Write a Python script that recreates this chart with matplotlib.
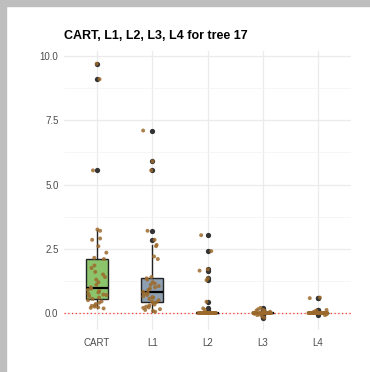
import numpy as np
import matplotlib
matplotlib.use("Agg")
from matplotlib import pyplot as plt
from matplotlib.patches import Rectangle
from matplotlib.ticker import MultipleLocator

plt.rcParams['font.family'] = ['Liberation Sans', 'DejaVu Sans']

methods = ['CART', 'L1', 'L2', 'L3', 'L4']
box_colors = ['#8cc46c', '#8d9fb0', '#e0a07a', '#c9a0dc', '#f2d27a']

cart = [0.18, 0.2, 0.22, 0.25, 0.28, 0.3, 0.35, 0.4, 0.45, 0.5,
        0.55, 0.6, 0.65, 0.7, 0.72, 0.75, 0.8, 0.85, 0.9, 0.95,
        1.0, 1.1, 1.2, 1.3, 1.4, 1.5, 1.6, 1.75, 1.85, 2.1,
        2.15, 2.35, 2.6, 2.85, 2.9, 3.2, 3.25, 5.55, 9.1, 9.7]
l1 = [0.05, 0.08, 0.12, 0.15, 0.2, 0.22, 0.25, 0.3, 0.33, 0.38,
      0.42, 0.45, 0.5, 0.55, 0.6, 0.62, 0.65, 0.7, 0.75, 0.78,
      0.82, 0.9, 0.95, 1.0, 1.05, 1.1, 1.15, 1.2, 1.3, 1.35,
      1.4, 2.1, 2.2, 2.6, 2.65, 2.85, 3.2, 5.55, 5.9, 7.1]
l2 = [0.0] * 31 + [3.03, 2.41, 1.7, 1.65, 1.35, 1.28, 0.44, 0.18, 0.12]
l3 = [0.0] * 28 + [-0.18, -0.12, -0.08, -0.05, -0.03, 0.03, 0.05, 0.08,
                   0.1, 0.12, 0.15, 0.2]
l4 = [0.0] * 32 + [-0.08, -0.05, 0.04, 0.06, 0.1, 0.12, 0.58, 0.6]
data = [cart, l1, l2, l3, l4]

fig = plt.figure(figsize=(3.7, 3.72), dpi=100)
ax = fig.add_axes([64 / 370, 1 - 330 / 372, 287 / 370, 279 / 372])

# grey frame on top and left edges
fig.patches.append(Rectangle((0, 1 - 6 / 372), 1, 6 / 372, transform=fig.transFigure,
                             color='#bebebe', zorder=0))
fig.patches.append(Rectangle((0, 0), 6 / 370, 1, transform=fig.transFigure,
                             color='#bebebe', zorder=0))

pos = np.arange(1, 6)
bp = ax.boxplot(data, positions=pos, widths=0.4, patch_artist=True,
                whis=1.5, zorder=3,
                medianprops=dict(color='black', linewidth=1.6),
                boxprops=dict(edgecolor='#222222', linewidth=1.0),
                whiskerprops=dict(color='#222222', linewidth=1.0),
                capprops=dict(linewidth=0),
                flierprops=dict(marker='o', markerfacecolor='#333333',
                                markeredgecolor='none', markersize=3.8))
for patch, c in zip(bp['boxes'], box_colors):
    patch.set_facecolor(c)

# jittered raw observations
rng = np.random.default_rng(17)
for i, vals in enumerate(data):
    vals = np.asarray(vals)
    xj = pos[i] + rng.uniform(-0.17, 0.17, len(vals))
    ax.scatter(xj, vals, s=8, color='#9c6a2c', alpha=0.85, edgecolors='none', zorder=4)

ax.axhline(0, color='#ff3b30', linestyle=(0, (1, 2)), linewidth=0.9, zorder=2)

ax.set_xlim(0.4, 5.6)
ax.set_ylim(-0.66, 10.195)
ax.set_xticks(pos)
ax.set_xticklabels(methods)
ax.yaxis.set_minor_locator(MultipleLocator(1.25))
ax.set_yticks([0, 2.5, 5, 7.5, 10])
ax.set_yticklabels(['0.0', '2.5', '5.0', '7.5', '10.0'])
ax.grid(True, which='major', color='#ebebeb', linewidth=0.9, zorder=0)
ax.grid(True, which='minor', axis='y', color='#f3f3f3', linewidth=0.5, zorder=0)
ax.set_axisbelow(True)
for s in ax.spines.values():
    s.set_visible(False)
ax.tick_params(which='both', length=0, labelsize=7, labelcolor='#4d4d4d', pad=4)
ax.tick_params(axis='x', pad=6)

fig.text(64 / 370, 1 - 36 / 372, 'CART, L1, L2, L3, L4 for tree 17',
         fontsize=9, fontweight='bold', ha='left', va='center')

plt.savefig('out.png', dpi=100)
